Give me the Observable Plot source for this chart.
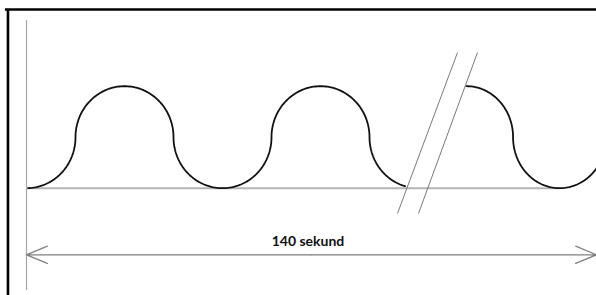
<!DOCTYPE html>
<html>
<head>
<meta charset="utf-8">
<script src="https://cdn.jsdelivr.net/npm/d3@7"></script>
<script src="https://cdn.jsdelivr.net/npm/@observablehq/plot@0.6"></script>
<style>
  html, body { margin: 0; padding: 0; background: #fff; }
  #chart svg { display: block; }
</style>
</head>
<body>
<div id="chart"></div>
<script>
// Half-circle segments of the wave (x in radius units, y: 0 = baseline, 2 = crest)
const leftCenters = [0, 2, 4, 6, 8];
const leftDirs = ["down", "up", "down", "up", "down"];
const leftRange = [0, 7.74];
const rightCenters = [8.98, 10.88];
const rightDirs = ["up", "down"];
const rightRange = [8.96, 11.7];
const rightRadius = 0.95;
const durationLabel = "140 sekund";

function halfCircles(centers, dirs, rx, range) {
  const pts = [];
  centers.forEach((c, i) => {
    const up = dirs[i] === "up";
    for (let k = 0; k <= 90; k++) {
      const t = up ? Math.PI - Math.PI * k / 90 : Math.PI + Math.PI * k / 90;
      const x = c + rx * Math.cos(t);
      const y = 1 + Math.sin(t);
      if (x >= range[0] && x <= range[1]) pts.push({x, y});
    }
  });
  return pts;
}
const leftWave = halfCircles(leftCenters, leftDirs, 1, leftRange);
const rightWave = halfCircles(rightCenters, rightDirs, rightRadius, rightRange);

const breakLines = [
  {x1: 8.796, y1: 2.661, x2: 7.571, y2: -0.496},
  {x1: 9.204, y1: 2.661, x2: 8.0, y2: -0.496}
];
const dimY = -1.306;
const dimMid = 5.8;

const chart = Plot.plot({
  width: 596,
  height: 295,
  margin: 0,
  x: {type: "linear", domain: [0, 1], range: [26, 75], axis: null},
  y: {type: "linear", domain: [0, 1], range: [187.7, 136.7], axis: null},
  style: {background: "#fff"},
  marks: [
    // frame (left and top edges)
    Plot.ruleX([-0.378], {y1: 3.504, y2: -2.2, stroke: "#000", strokeWidth: 2.6}),
    Plot.ruleY([3.504], {x1: -0.43, x2: 11.8, stroke: "#000", strokeWidth: 2.6}),
    // vertical reference line
    Plot.ruleX([0], {y1: 3.288, y2: -2.006, stroke: "#a6a6a6", strokeWidth: 1.2}),
    // baseline
    Plot.ruleY([0], {x1: 0, x2: rightCenters[1], stroke: "#b4b4b4", strokeWidth: 2}),
    // break marks
    Plot.link(breakLines, {x1: "x1", y1: "y1", x2: "x2", y2: "y2", stroke: "#7a7a7a", strokeWidth: 1}),
    // wave
    Plot.line(leftWave, {x: "x", y: "y", stroke: "#111", strokeWidth: 1.8, curve: "linear"}),
    Plot.line(rightWave, {x: "x", y: "y", stroke: "#111", strokeWidth: 1.8, curve: "linear"}),
    // dimension arrows
    Plot.arrow([{x1: dimMid, x2: 0}, {x1: dimMid, x2: 11.633}], {
      x1: "x1", x2: "x2", y1: () => dimY, y2: () => dimY,
      stroke: "#808080", strokeWidth: 1.3, headLength: 26, headAngle: 45
    }),
    Plot.text([durationLabel], {
      x: 5.745, y: -1.124, text: d => d, textAnchor: "middle", lineAnchor: "bottom",
      fontFamily: "Lato", fontWeight: 700, fontSize: 14, fill: "#111"
    })
  ]
});
document.getElementById("chart").appendChild(chart);
</script>
</body>
</html>
